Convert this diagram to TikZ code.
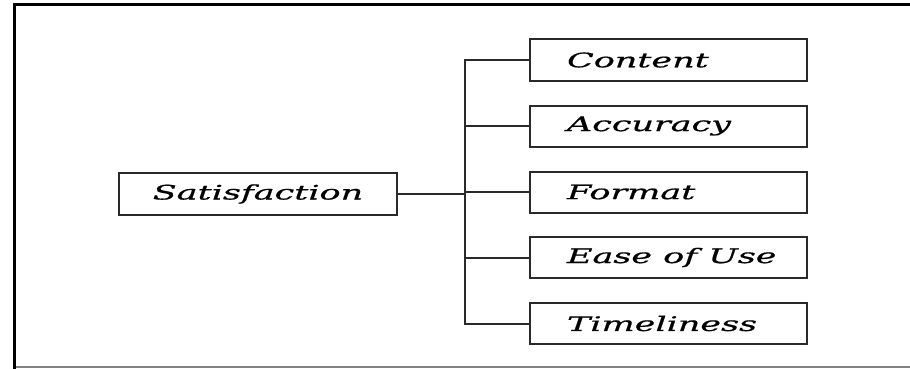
\documentclass[tikz,border=0pt]{standalone}
\usepackage{fontspec}
\newfontfamily\boxfont{DejaVu Serif}[FakeStretch=1.75,FakeBold=0.8]
\definecolor{linecol}{HTML}{2A2A2A}
\begin{document}
\begin{tikzpicture}[x=1pt,y=-1pt,
  boxstyle/.style={draw=linecol, line width=2pt, rectangle, inner sep=0pt,
    minimum height=41pt, font=\boxfont\itshape\fontsize{20}{20}\selectfont},
  itembox/.style={boxstyle, minimum width=277pt},
  rootbox/.style={boxstyle, minimum width=278pt, minimum height=42pt},
  link/.style={draw=linecol, line width=2pt},
  frameline/.style={line width=3pt, black},
  thinframe/.style={line width=1.5pt, gray}]
\useasboundingbox (0,0) rectangle (910,369);
% outer frame
\coordinate (ftl) at (14,5);
\coordinate (fbl) at (14,367);
\coordinate (ftr) at (910,5);
\coordinate (fbr) at (910,367);
\draw[thinframe] (fbl) -- (fbr);
\draw[frameline, line cap=rect] (fbl) -- (ftl) -- (ftr);
% nodes
\node[rootbox] (sat) at (258,194) {Satisfaction};
\node[itembox] (con) at (668.5,60) {\makebox[203pt][l]{Content}};
\node[itembox] (acc) at (668.5,126) {\makebox[203pt][l]{Accuracy}};
\node[itembox] (for) at (668.5,192) {\makebox[203pt][l]{Format}};
\node[itembox] (eas) at (668.5,257.5) {\makebox[203pt][l]{Ease of Use}};
\node[itembox] (tim) at (668.5,323.5) {\makebox[203pt][l]{Timeliness}};
\coordinate (spine) at (465,0);
% connectors
\draw[link] (con.west) -- (con.west -| spine) -- (tim.west -| spine) -- (tim.west);
\draw[link] (acc.west) -- (acc.west -| spine);
\draw[link] (for.west) -- (for.west -| spine);
\draw[link] (eas.west) -- (eas.west -| spine);
\draw[link] (sat.east) -- (sat.east -| spine);
\end{tikzpicture}
\end{document}
